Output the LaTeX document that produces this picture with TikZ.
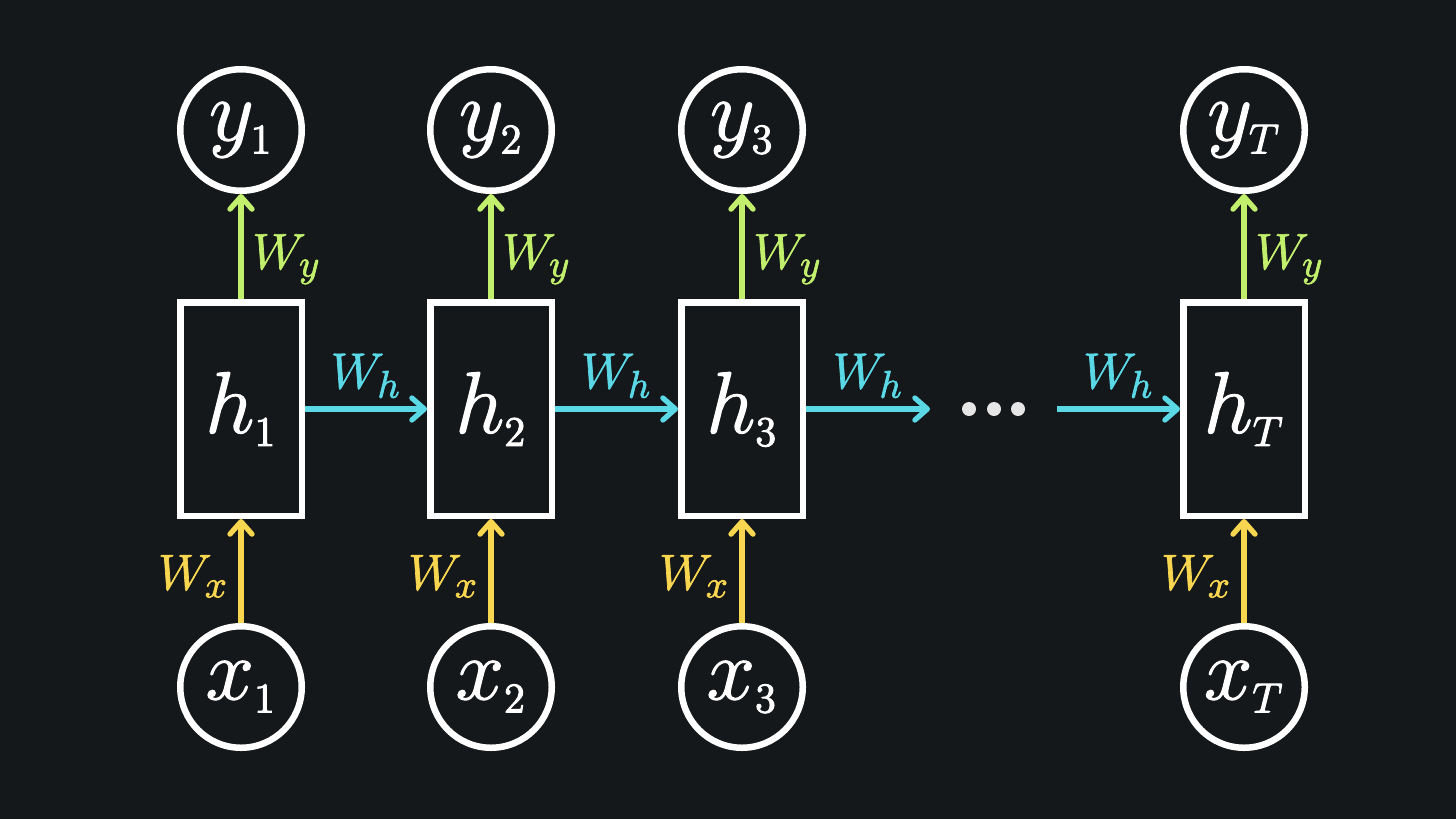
\documentclass[tikz,border=0pt]{standalone}
\usepackage{amsmath}
\usetikzlibrary{arrows.meta}
\definecolor{bgdark}{HTML}{15181B}
\definecolor{wgreen}{HTML}{C2F06C}
\definecolor{wcyan}{HTML}{5AD8E6}
\definecolor{wyellow}{HTML}{F8D650}
\definecolor{dotgray}{HTML}{E6E6E6}
% heavier glyphs: fill and stroke the text
\newcommand{\heavy}[2]{\special{pdf:literal direct 2 Tr #1 w}#2\special{pdf:literal direct 0 Tr}}

\begin{document}
\begin{tikzpicture}[
		statenode/.style={
		% The shape:
		rectangle,
		% The size:
		minimum width=12.15mm,
		minimum height=21.35mm,
		% The border:
		line width=1.85pt,
		draw=white,
		% The filling:
		fill=bgdark,
		% Font
		text=white,
		font=\fontsize{23}{28}\selectfont
		},
		ionode/.style={
		circle,
		minimum size=12.15mm,
		inner sep=0pt,
		line width=1.85pt,
		draw=white,
		fill=bgdark,
		text=white,
		font=\fontsize{23}{28}\selectfont
		},
		dotnode/.style={circle, inner sep=0pt, minimum size=1.4mm, fill=dotgray},
		wlabel/.style={font=\fontsize{15.5}{18}\selectfont},
		flow/.style={line width=1.5pt, -{Straight Barb[length=1.25mm,width=2.2mm,round]}}
	]
	% background and bounding box
	\fill[bgdark] (0,0) rectangle (14.56,8.19);
	\useasboundingbox (0,0) rectangle (14.56,8.19);

	\node (Y1)[ionode] at (2.41,6.89) {\heavy{0.3}{$y_{\scriptscriptstyle 1}$}};
	\node (Y2)[ionode] at (4.91,6.89) {\heavy{0.3}{$y_{\scriptscriptstyle 2}$}};
	\node (Y3)[ionode] at (7.42,6.89) {\heavy{0.3}{$y_{\scriptscriptstyle 3}$}};
	\node (YT)[ionode] at (12.44,6.89) {\heavy{0.3}{$y_{\scriptscriptstyle T}$}};

	\node (H1)[statenode] at (2.41,4.10) {\heavy{0.3}{$h_{\scriptscriptstyle 1}$}};
	\node (H2)[statenode] at (4.91,4.10) {\heavy{0.3}{$h_{\scriptscriptstyle 2}$}};
	\node (H3)[statenode] at (7.42,4.10) {\heavy{0.3}{$h_{\scriptscriptstyle 3}$}};
	\node (HT)[statenode] at (12.44,4.10) {\heavy{0.3}{$h_{\scriptscriptstyle T}$}};

	\node (X1)[ionode] at (2.41,1.32) {\heavy{0.3}{$x_{\scriptscriptstyle 1}$}};
	\node (X2)[ionode] at (4.91,1.32) {\heavy{0.3}{$x_{\scriptscriptstyle 2}$}};
	\node (X3)[ionode] at (7.42,1.32) {\heavy{0.3}{$x_{\scriptscriptstyle 3}$}};
	\node (XT)[ionode] at (12.44,1.32) {\heavy{0.3}{$x_{\scriptscriptstyle T}$}};

	\node (D1)[dotnode] at (9.69,4.10) {};
	\node (D2)[dotnode] at (9.94,4.10) {};
	\node (D3)[dotnode] at (10.18,4.10) {};
	\coordinate (GapL) at (9.30,4.10);
	\coordinate (GapR) at (10.57,4.10);

	\draw [flow, wgreen] (H1) -- node[wlabel, pos=0.38, anchor=west, xshift=-0.03cm] {\heavy{0.2}{$W_y$}} (Y1);
	\draw [flow, wgreen] (H2) -- node[wlabel, pos=0.38, anchor=west, xshift=-0.03cm] {\heavy{0.2}{$W_y$}} (Y2);
	\draw [flow, wgreen] (H3) -- node[wlabel, pos=0.38, anchor=west, xshift=-0.03cm] {\heavy{0.2}{$W_y$}} (Y3);
	\draw [flow, wgreen] (HT) -- node[wlabel, pos=0.38, anchor=west, xshift=-0.03cm] {\heavy{0.2}{$W_y$}} (YT);

	\draw [flow, wyellow] (X1) -- node[wlabel, pos=0.45, anchor=east, xshift=0.02cm] {\heavy{0.2}{$W_x$}} (H1);
	\draw [flow, wyellow] (X2) -- node[wlabel, pos=0.45, anchor=east, xshift=0.02cm] {\heavy{0.2}{$W_x$}} (H2);
	\draw [flow, wyellow] (X3) -- node[wlabel, pos=0.45, anchor=east, xshift=0.02cm] {\heavy{0.2}{$W_x$}} (H3);
	\draw [flow, wyellow] (XT) -- node[wlabel, pos=0.45, anchor=east, xshift=0.02cm] {\heavy{0.2}{$W_x$}} (HT);

	\draw [flow, wcyan] (H1) -- node[wlabel, anchor=south, yshift=-0.03cm] {\heavy{0.2}{$W_h$}} (H2);
	\draw [flow, wcyan] (H2) -- node[wlabel, anchor=south, yshift=-0.03cm] {\heavy{0.2}{$W_h$}} (H3);
	\draw [flow, wcyan] (H3) -- node[wlabel, anchor=south, yshift=-0.03cm] {\heavy{0.2}{$W_h$}} (GapL);
	\draw [flow, wcyan] (GapR) -- node[wlabel, anchor=south, yshift=-0.03cm] {\heavy{0.2}{$W_h$}} (HT);
\end{tikzpicture}
\end{document}
